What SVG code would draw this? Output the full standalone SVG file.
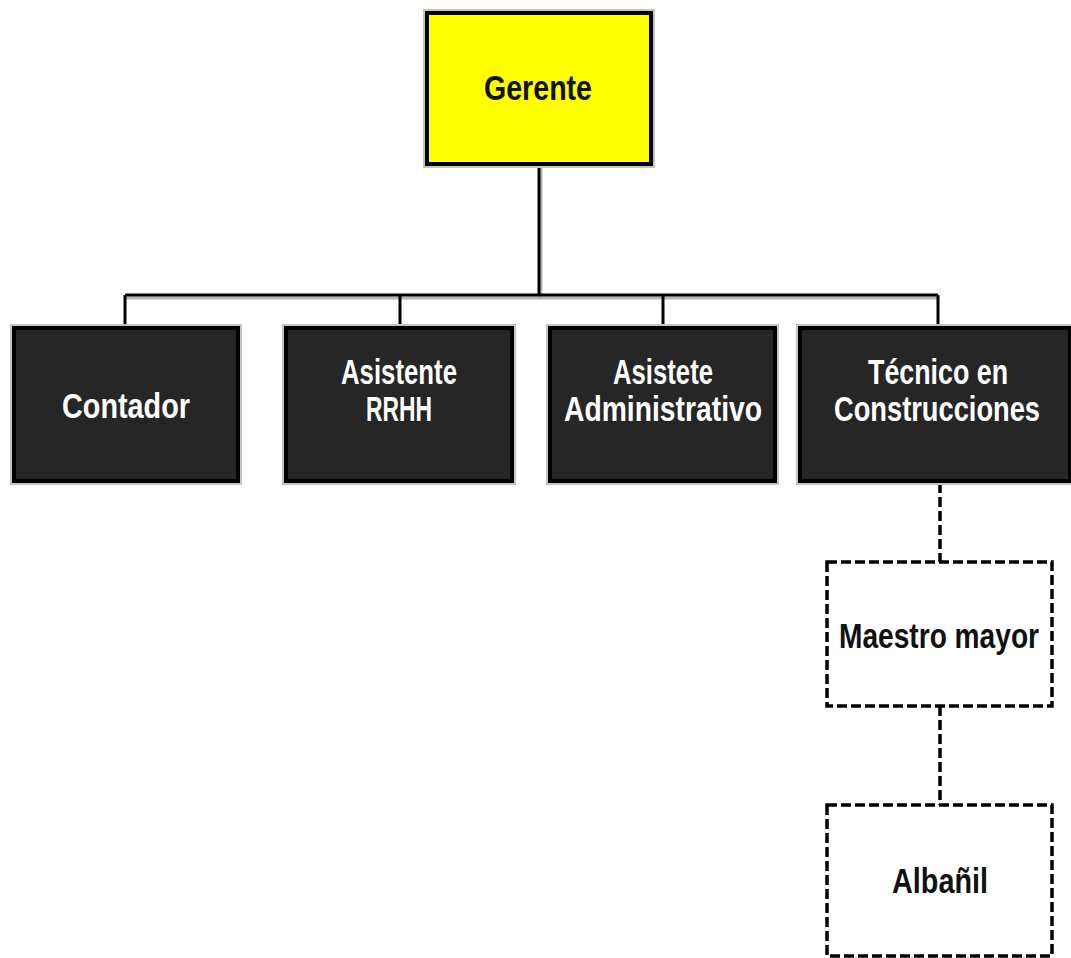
<svg xmlns="http://www.w3.org/2000/svg" width="1071" height="958" viewBox="0 0 1071 958">
<style>
.halo{fill:none;stroke:#c4c4c4;stroke-width:2}
.dark{fill:#262626;stroke:#000;stroke-width:4}
.top{fill:#ffff00;stroke:#000;stroke-width:4}
.dash{fill:#fff;stroke:#000;stroke-width:3.5;stroke-dasharray:10 4}
.wt{fill:#fff;font-family:"Liberation Sans",Arial,sans-serif;font-weight:bold;font-size:28px;text-anchor:middle}
.bt{fill:#111;font-family:"Liberation Sans",Arial,sans-serif;font-weight:bold;font-size:28px;text-anchor:middle}
.ln{fill:none;stroke:#000;stroke-width:3}
.lnh{fill:none;stroke:#b5b5b5;stroke-width:3}
.dl{fill:none;stroke:#000;stroke-width:3.5;stroke-dasharray:10 4}
</style>
<rect width="1071" height="958" fill="#fff"/>
<g id="connectors">
<path class="lnh" d="M541,166 V298 M126,298 H937"/>
<path class="ln" d="M539,164 V295 M125,295 H938 M125,295 V327 M400,295 V327 M663,295 V327 M938,295 V327"/>
<path class="dl" d="M940,483 V562 M940,706 V805"/>
</g>
<g id="gerente">
<rect class="halo" x="424" y="10" width="230" height="157"/>
<rect class="top" x="427" y="13" width="224" height="151"/>
<text class="bt" transform="translate(538,100) scale(1,1.286)" textLength="108" lengthAdjust="spacingAndGlyphs">Gerente</text>
</g>
<g id="contador">
<rect class="halo" x="11" y="325" width="230" height="159"/>
<rect class="dark" x="14" y="328" width="224" height="153"/>
<text class="wt" transform="translate(126,418) scale(1,1.286)" textLength="128" lengthAdjust="spacingAndGlyphs">Contador</text>
</g>
<g id="asistente-rrhh">
<rect class="halo" x="283" y="325" width="232" height="159"/>
<rect class="dark" x="286" y="328" width="226" height="153"/>
<text class="wt" transform="translate(399,384) scale(1,1.286)" textLength="116" lengthAdjust="spacingAndGlyphs">Asistente</text>
<text class="wt" transform="translate(399,421) scale(1,1.286)" textLength="66" lengthAdjust="spacingAndGlyphs">RRHH</text>
</g>
<g id="asistete-administrativo">
<rect class="halo" x="547" y="325" width="231" height="159"/>
<rect class="dark" x="550" y="328" width="225" height="153"/>
<text class="wt" transform="translate(663,384) scale(1,1.286)" textLength="100" lengthAdjust="spacingAndGlyphs">Asistete</text>
<text class="wt" transform="translate(663,421) scale(1,1.286)" textLength="198" lengthAdjust="spacingAndGlyphs">Administrativo</text>
</g>
<g id="tecnico">
<rect class="halo" x="797" y="325" width="274" height="159"/>
<rect class="dark" x="800" y="328" width="270" height="153"/>
<text class="wt" transform="translate(938,384) scale(1,1.286)" textLength="140" lengthAdjust="spacingAndGlyphs">Técnico en</text>
<text class="wt" transform="translate(937,421) scale(1,1.286)" textLength="206" lengthAdjust="spacingAndGlyphs">Construcciones</text>
</g>
<g id="maestro">
<rect class="dash" x="827" y="562" width="225" height="144"/>
<text class="bt" transform="translate(939,648) scale(1,1.286)" textLength="200" lengthAdjust="spacingAndGlyphs">Maestro mayor</text>
</g>
<g id="albanil">
<rect class="dash" x="827" y="805" width="225" height="151"/>
<text class="bt" transform="translate(940,893) scale(1,1.286)" textLength="96" lengthAdjust="spacingAndGlyphs">Albañil</text>
</g>
</svg>
